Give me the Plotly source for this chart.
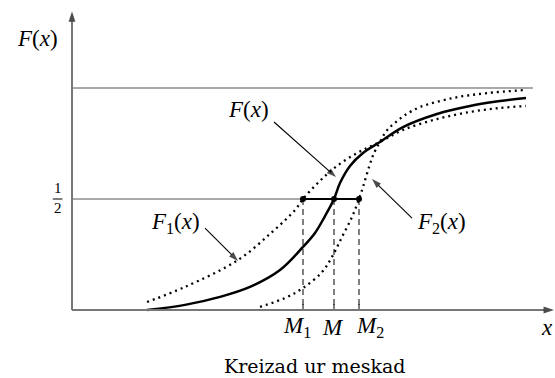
import plotly.graph_objects as go

# Distribution functions F, F1, F2 sampled along the x axis
f_x = [1.875, 2.825, 3.70, 4.45, 5.20, 5.775, 6.075, 6.325, 6.55, 6.70, 6.95,
       7.275, 7.70, 8.275, 9.125, 9.95, 10.70, 11.35]
f_y = [0.0, 0.023, 0.059, 0.104, 0.180, 0.284, 0.347, 0.423, 0.500, 0.572, 0.649,
       0.707, 0.757, 0.824, 0.883, 0.919, 0.941, 0.955]

f1_x = [1.875, 2.825, 4.15, 5.00, 5.575, 5.775, 6.025, 6.275, 6.525, 6.875, 7.275,
        7.70, 8.275, 9.125, 9.95, 10.70, 11.35]
f1_y = [0.036, 0.104, 0.225, 0.351, 0.450, 0.500, 0.550, 0.595, 0.635, 0.680, 0.721,
        0.757, 0.811, 0.860, 0.892, 0.910, 0.919]

f2_x = [4.70, 5.325, 5.775, 6.25, 6.50, 6.75, 7.00, 7.175, 7.275, 7.425, 7.55,
        7.70, 7.825, 7.95, 8.125, 8.325, 8.70, 9.525, 10.375, 11.35]
f2_y = [0.014, 0.054, 0.099, 0.171, 0.239, 0.329, 0.419, 0.500, 0.554, 0.644, 0.707,
        0.757, 0.797, 0.824, 0.851, 0.878, 0.914, 0.955, 0.977, 0.991]

# Medians and reference levels
medians = [5.775, 6.55, 7.175]          # M1, M, M2
median_labels = ["<i>M</i><sub>1</sub>", "<i>M</i>", "<i>M</i><sub>2</sub>"]
half = 0.5
upper = 1.0
upper_end = 11.525

# Curve labels: text, label centre, arrow tail, arrow tip
curve_labels = ["<i>F</i>(<i>x</i>)", "<i>F</i><sub>1</sub>(<i>x</i>)",
                "<i>F</i><sub>2</sub>(<i>x</i>)"]
label_pos = [(4.40, 0.905), (2.575, 0.392), (9.225, 0.392)]
arrow_tail = [(5.05, 0.847), (3.325, 0.369), (8.50, 0.414)]
arrow_tip = [(6.60, 0.599), (4.15, 0.221), (7.50, 0.590)]

title = "Kreizad ur meskad"

MATH = "Liberation Serif"
ROMAN = "DejaVu Serif"
X_TOP = 12.05
Y_TOP = 1.345


def math_font(size=23):
    return dict(family=MATH, size=size, color="black")


def arrow(x0, y0, x1, y1, color="black", width=1.1, head=9):
    """Line from (x0, y0) to (x1, y1) with a filled head at the end."""
    return go.Scatter(
        x=[x0, x1], y=[y0, y1], mode="lines+markers",
        line=dict(color=color, width=width),
        marker=dict(symbol="arrow", size=[0, head], angleref="previous",
                    color="black", line=dict(width=0)),
        hoverinfo="skip",
    )


fig = go.Figure()

# reference levels
fig.add_trace(go.Scatter(x=[0, upper_end], y=[upper, upper], mode="lines",
                         line=dict(color="#555", width=1), hoverinfo="skip"))
fig.add_trace(go.Scatter(x=[0, medians[0]], y=[half, half], mode="lines",
                         line=dict(color="#555", width=1), hoverinfo="skip"))
fig.add_trace(go.Scatter(x=[medians[0], medians[2]], y=[half, half], mode="lines",
                         line=dict(color="black", width=2), hoverinfo="skip"))

# dashed drops from the 1/2 level to the axis
for m in medians:
    fig.add_trace(go.Scatter(x=[m, m], y=[half, 0], mode="lines",
                             line=dict(color="black", width=1, dash="6px,4px"),
                             hoverinfo="skip"))
    fig.add_trace(go.Scatter(x=[m, m], y=[0, 0.027], mode="lines",
                             line=dict(color="black", width=1), hoverinfo="skip"))

# curves
fig.add_trace(go.Scatter(x=f1_x, y=f1_y, mode="lines", line_shape="spline",
                         line=dict(color="black", width=2.3, dash="2px,4px")))
fig.add_trace(go.Scatter(x=f2_x, y=f2_y, mode="lines", line_shape="spline",
                         line=dict(color="black", width=2.3, dash="2px,4px")))
fig.add_trace(go.Scatter(x=f_x, y=f_y, mode="lines", line_shape="spline",
                         line=dict(color="black", width=2.5)))

# median points
fig.add_trace(go.Scatter(x=medians, y=[half] * 3, mode="markers",
                         marker=dict(color="black", size=6)))

# axes with arrow heads
fig.add_trace(arrow(0, 0, 0, Y_TOP, color="#777", width=2, head=11))
fig.add_trace(arrow(0, 0, X_TOP, 0, color="#777", width=2, head=11))

# curve label pointers
for (tx, ty), (hx, hy) in zip(arrow_tail, arrow_tip):
    fig.add_trace(arrow(tx, ty, hx, hy, head=10))

ann = []
for txt, (lx, ly) in zip(curve_labels, label_pos):
    ann.append(dict(x=lx, y=ly, xref="x", yref="y", showarrow=False, text=txt,
                    font=math_font()))

# axis titles
ann.append(dict(x=-0.875, y=1.221, xref="x", yref="y", showarrow=False,
                text="<i>F</i>(<i>x</i>)", font=math_font()))
ann.append(dict(x=11.875, y=-0.077, xref="x", yref="y", showarrow=False,
                text="<i>x</i>", font=math_font()))

# median tick labels
for m, lab, dx in zip(medians, median_labels, [-6, -1, 11]):
    ann.append(dict(x=m, y=-0.077, xref="x", yref="y", showarrow=False, xshift=dx,
                    text=lab, font=math_font()))

# the 1/2 level label
ann.append(dict(x=-0.36, y=half, xref="x", yref="y", showarrow=False, yshift=11,
                text="1", font=dict(family=MATH, size=15, color="black")))
ann.append(dict(x=-0.36, y=half, xref="x", yref="y", showarrow=False, yshift=-9,
                text="2", font=dict(family=MATH, size=15, color="black")))
fig.add_shape(type="line", x0=-0.48, x1=-0.24, y0=half, y1=half,
              line=dict(color="black", width=1))

ann.append(dict(x=6.075, y=-0.252, xref="x", yref="y", showarrow=False,
                text=title, font=dict(family=ROMAN, size=19, color="black")))

fig.update_layout(
    width=555, height=378,
    margin=dict(l=0, r=0, t=0, b=0),
    paper_bgcolor="white", plot_bgcolor="white",
    showlegend=False,
    xaxis=dict(range=[-1.8, 12.075], visible=False, fixedrange=True),
    yaxis=dict(range=[-68 / 222, 310 / 222], visible=False, fixedrange=True),
    annotations=ann,
)

fig.write_html("out.html")
